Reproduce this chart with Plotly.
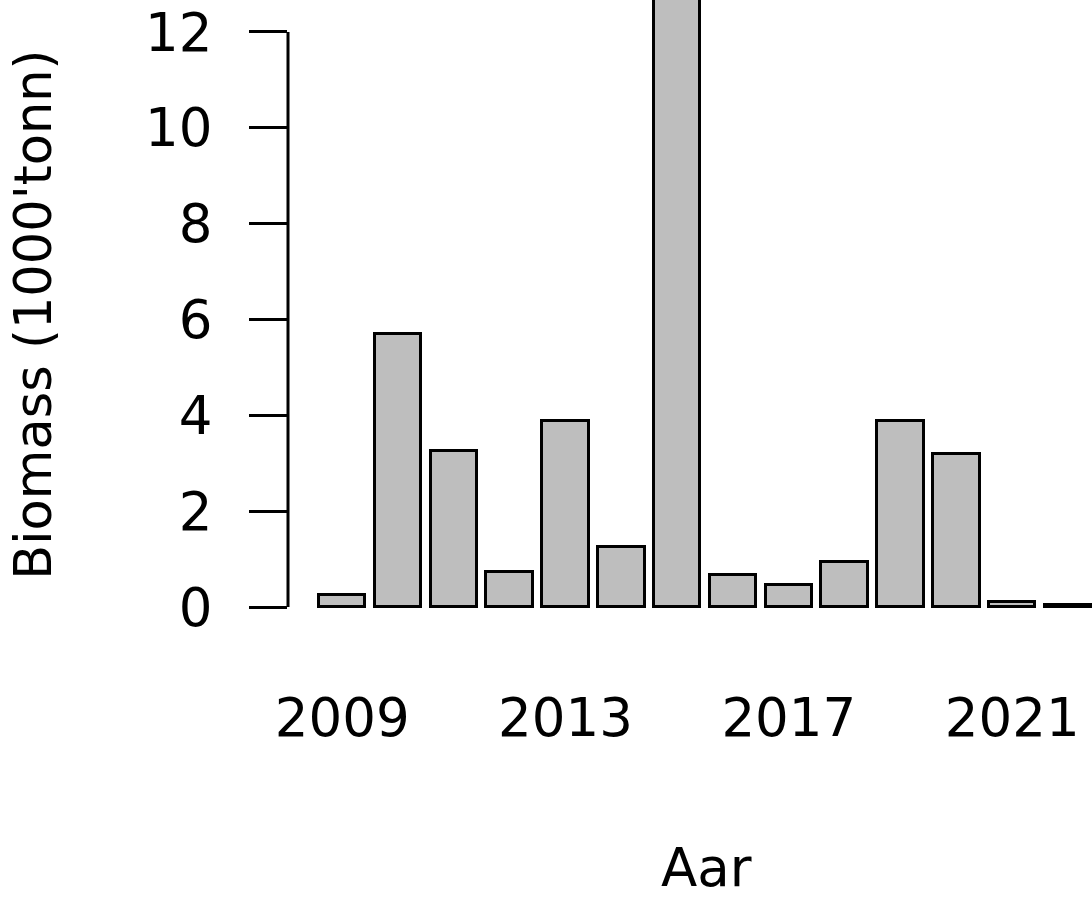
import plotly.graph_objects as go

years = [2009, 2010, 2011, 2012, 2013, 2014, 2015, 2016, 2017, 2018, 2019, 2020, 2021, 2022]
biomass = [0.25, 5.70, 3.25, 0.73, 3.88, 1.25, 13.8, 0.66, 0.45, 0.93, 3.88, 3.20, 0.10, 0.05]
x_ticks = [2009, 2013, 2017, 2021]
y_ticks = [0, 2, 4, 6, 8, 10, 12]
x_title = "Aar"
y_title = "Biomass (1000'tonn)"

FONT = "DejaVu Sans"
FS = 53

fig = go.Figure()
fig.add_trace(go.Bar(
    x=years, y=biomass, width=1 / 1.2,
    marker=dict(color="#bebebe", line=dict(color="black", width=3)),
    cliponaxis=True,
))

fig.update_layout(
    width=1092, height=899, autosize=False,
    margin=dict(l=288, r=0, t=0, b=269, pad=0),
    plot_bgcolor="white", paper_bgcolor="white",
    showlegend=False,
    font=dict(family=FONT, size=FS, color="black"),
    bargap=0,
)
fig.update_xaxes(
    range=[2008.03, 2022.43], tickmode="array", tickvals=x_ticks,
    ticktext=[str(v) for v in x_ticks], ticks="", showgrid=False,
    zeroline=False, showline=False, ticklabelstandoff=52,
    tickfont=dict(family=FONT, size=FS, color="black"),
)
fig.update_yaxes(
    range=[-0.48, 12.667], tickmode="array", tickvals=y_ticks,
    ticks="outside", ticklen=38, tickwidth=3, tickcolor="black",
    showgrid=False, zeroline=False, showline=False, ticklabelstandoff=26,
    tickfont=dict(family=FONT, size=FS, color="black"),
)
# R-style axis line spanning only the tick range
fig.add_shape(type="line", xref="paper", yref="y", x0=0, x1=0,
              y0=min(y_ticks), y1=max(y_ticks),
              line=dict(color="black", width=3))

fig.add_annotation(text=x_title, xref="paper", yref="paper", x=0.52, y=-0.377,
                   xanchor="center", yanchor="middle", showarrow=False,
                   font=dict(family=FONT, size=FS, color="black"))
fig.add_annotation(text=y_title, xref="paper", yref="y", x=-0.316, y=6.1,
                   xanchor="center", yanchor="middle", textangle=-90, showarrow=False,
                   font=dict(family=FONT, size=51, color="black"))

fig.write_html("out.html", config={"displayModeBar": False},
               post_script="document.body.style.margin='0';")
